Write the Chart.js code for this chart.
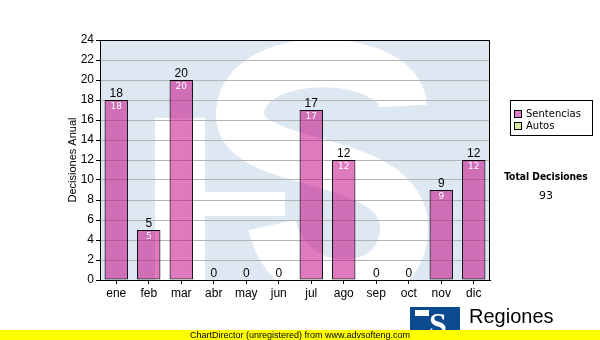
<!DOCTYPE html>
<html>
<head>
<meta charset="utf-8">
<script src="https://cdn.jsdelivr.net/npm/chart.js@4"></script>
<style>
  body { margin: 0; background: #fff; }
  #wrap { position: relative; width: 600px; height: 340px; }
  #legend { position: absolute; left: 510px; top: 100px; width: 81px; height: 34px;
    border: 1px solid #000; font: 10px "DejaVu Sans", sans-serif; background: #fff; }
  #legend div { position: absolute; left: 3px; height: 11px; line-height: 11px; white-space: nowrap; }
  #legend span { display: inline-block; width: 8px; height: 8px; border: 1px solid #000;
    box-sizing: border-box; margin-right: 4px; vertical-align: -1px; }
  #total { position: absolute; left: 496px; top: 171px; width: 100px; text-align: center;
    font: bold 10.2px "DejaVu Sans Condensed", "DejaVu Sans", sans-serif; }
  #totalVal { position: absolute; left: 496px; top: 189px; width: 100px; text-align: center;
    font: 11px "DejaVu Sans", sans-serif; }
</style>
</head>
<body>
<div id="wrap">
  <canvas id="myChart" width="600" height="340"></canvas>
  <div id="legend">
    <div style="top:7px"><span style="background:#e080c8"></span>Sentencias</div>
    <div style="top:19px"><span style="background:#d8eca0"></span>Autos</div>
  </div>
  <div id="total">Total Decisiones</div>
  <div id="totalVal"></div>
</div>
<script>
const meses = ['ene', 'feb', 'mar', 'abr', 'may', 'jun', 'jul', 'ago', 'sep', 'oct', 'nov', 'dic'];
const sentencias = [18, 5, 20, 0, 0, 0, 17, 12, 0, 0, 9, 12];
const yMin = 0;
const yMax = 24;
const yStep = 2;

document.getElementById('totalVal').textContent = sentencias.reduce((a, b) => a + b, 0);

// fondo azul con la S de marca de agua
const marcaAgua = {
    id: 'marcaAgua',
    beforeDraw(chart) {
        const { ctx, chartArea: a } = chart;
        ctx.save();
        ctx.beginPath();
        ctx.rect(a.left, a.top, a.right - a.left, a.bottom - a.top);
        ctx.clip();
        ctx.fillStyle = '#dee8f2';
        ctx.fillRect(a.left, a.top, a.right - a.left, a.bottom - a.top);
        ctx.fillStyle = '#fff';
        ctx.strokeStyle = '#fff';
        ctx.fillRect(155, 118, 50, 170);
        ctx.lineCap = 'butt';
        ctx.lineWidth = 48;
        ctx.beginPath();
        ctx.moveTo(403, 106);
        ctx.bezierCurveTo(400, 50, 244, 46, 240, 112);
        ctx.bezierCurveTo(236, 172, 404, 150, 404, 228);
        ctx.bezierCurveTo(404, 300, 290, 305, 272, 225);
        ctx.stroke();
        ctx.lineWidth = 24;
        ctx.beginPath();
        ctx.moveTo(285, 204);
        ctx.lineTo(205, 204);
        ctx.stroke();
        ctx.restore();
    },
    afterDraw(chart) {
        const { ctx, chartArea: a } = chart;
        ctx.save();
        ctx.strokeStyle = '#000';
        ctx.lineWidth = 1;
        ctx.strokeRect(a.left + 0.5, a.top + 0.5, a.right - a.left - 1, a.bottom - a.top);

        // logo
        ctx.fillStyle = '#0b4a8f';
        ctx.fillRect(410, 307, 50, 26);
        ctx.fillStyle = '#fff';
        ctx.fillRect(415, 310, 14, 6);
        ctx.font = 'bold 32px "Liberation Serif", serif';
        ctx.textAlign = 'center';
        ctx.textBaseline = 'alphabetic';
        ctx.fillText('S', 438, 335);
        ctx.fillStyle = '#000';
        ctx.textAlign = 'left';
        ctx.font = '20px "Liberation Sans", Arial, sans-serif';
        ctx.fillText('Regiones', 469, 323);
        ctx.font = '9px "Liberation Sans", Arial, sans-serif';
        ctx.fillText('Tribunal Supremo de Justicia', 469, 337);

        // banda amarilla
        ctx.fillStyle = '#ffff00';
        ctx.fillRect(0, 330, 600, 10);
        ctx.fillStyle = '#000';
        ctx.font = '9px "Liberation Sans", Arial, sans-serif';
        ctx.fillText('ChartDirector (unregistered) from www.advsofteng.com', 190, 338);
        ctx.restore();
    }
};

// valores encima y dentro de las barras
const etiquetas = {
    id: 'etiquetas',
    afterDatasetsDraw(chart) {
        const { ctx } = chart;
        const meta = chart.getDatasetMeta(0);
        ctx.save();
        ctx.textAlign = 'center';
        meta.data.forEach((bar, i) => {
            const v = sentencias[i];
            ctx.fillStyle = '#000';
            ctx.font = '12px "Liberation Sans", Arial, sans-serif';
            ctx.textBaseline = 'bottom';
            ctx.fillText(v, bar.x, bar.y - 0.5);
            if (v > 0) {
                ctx.fillStyle = '#fff';
                ctx.font = '9px "DejaVu Sans", sans-serif';
                ctx.textBaseline = 'middle';
                ctx.fillText(v, bar.x, bar.y + 7);
            }
        });
        ctx.restore();
    }
};

new Chart(document.getElementById('myChart'), {
    type: 'bar',
    data: {
        labels: meses,
        datasets: [{
            label: 'Sentencias',
            data: sentencias,
            backgroundColor: 'rgba(195, 0, 130, 0.52)',
            borderColor: '#000',
            borderWidth: 1,
            borderSkipped: false,
            categoryPercentage: 1,
            barPercentage: 0.72
        }]
    },
    options: {
        responsive: false,
        animation: false,
        layout: { padding: { left: 62, top: 40, right: 110, bottom: 40 } },
        plugins: {
            legend: { display: false },
            tooltip: { enabled: false }
        },
        scales: {
            x: {
                afterFit(scale) { scale.height = 20; },
                grid: { drawOnChartArea: false, offset: false, tickLength: 4, tickColor: '#000' },
                border: { color: '#000' },
                ticks: { color: '#000', padding: 2, font: { family: '"Liberation Sans", Arial', size: 12 } }
            },
            y: {
                min: yMin,
                max: yMax,
                afterFit(scale) { scale.width = 38; },
                grid: { color: '#b4b4b4', tickLength: 4, tickColor: '#000' },
                border: { color: '#000' },
                ticks: { stepSize: yStep, color: '#000', padding: 2, font: { family: '"Liberation Sans", Arial', size: 12 } },
                title: {
                    display: true,
                    text: 'Decisiones Anual',
                    color: '#000',
                    padding: { top: 4, bottom: 0 },
                    font: { family: '"Liberation Sans", Arial', size: 11 }
                }
            }
        }
    },
    plugins: [marcaAgua, etiquetas]
});
</script>
</body>
</html>
